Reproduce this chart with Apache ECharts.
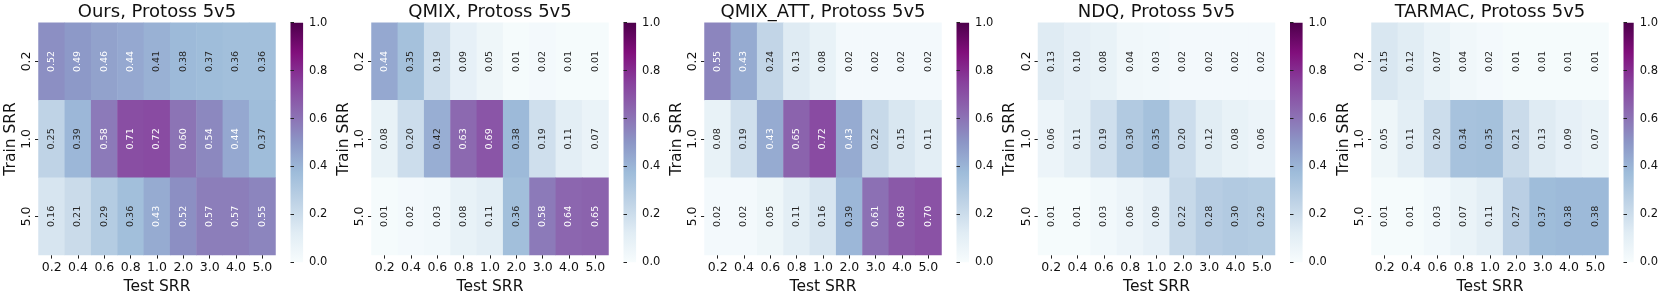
<!DOCTYPE html>
<html>
<head>
<meta charset="utf-8">
<script src="https://cdn.jsdelivr.net/npm/echarts@6/dist/echarts.min.js"></script>
<style>html,body{margin:0;padding:0;background:#fff}#c{width:1661px;height:300px}</style>
</head>
<body>
<div id="c"></div>
<script>
const testSRR = ['0.2','0.4','0.6','0.8','1.0','2.0','3.0','4.0','5.0'];
const trainSRR = ['0.2','1.0','5.0'];
const titles = ['Ours, Protoss 5v5','QMIX, Protoss 5v5','QMIX_ATT, Protoss 5v5','NDQ, Protoss 5v5','TARMAC, Protoss 5v5'];

const ours = [
  [0.52,0.49,0.46,0.44,0.41,0.38,0.37,0.36,0.36],
  [0.25,0.39,0.58,0.71,0.72,0.60,0.54,0.44,0.37],
  [0.16,0.21,0.29,0.36,0.43,0.52,0.57,0.57,0.55]
];
const qmix = [
  [0.44,0.35,0.19,0.09,0.05,0.01,0.02,0.01,0.01],
  [0.08,0.20,0.42,0.63,0.69,0.38,0.19,0.11,0.07],
  [0.01,0.02,0.03,0.08,0.11,0.36,0.58,0.64,0.65]
];
const qmixAtt = [
  [0.55,0.43,0.24,0.13,0.08,0.02,0.02,0.02,0.02],
  [0.08,0.19,0.43,0.65,0.72,0.43,0.22,0.15,0.11],
  [0.02,0.02,0.05,0.11,0.16,0.39,0.61,0.68,0.70]
];
const ndq = [
  [0.13,0.10,0.08,0.04,0.03,0.02,0.02,0.02,0.02],
  [0.06,0.11,0.19,0.30,0.35,0.20,0.12,0.08,0.06],
  [0.01,0.01,0.03,0.06,0.09,0.22,0.28,0.30,0.29]
];
const tarmac = [
  [0.15,0.12,0.07,0.04,0.02,0.01,0.01,0.01,0.01],
  [0.05,0.11,0.20,0.34,0.35,0.21,0.13,0.09,0.07],
  [0.01,0.01,0.03,0.07,0.11,0.27,0.37,0.38,0.38]
];
const panels = [ours, qmix, qmixAtt, ndq, tarmac];

// BuPu colormap
const bupu = ['#f7fcfd','#e0ecf4','#bfd3e6','#9ebcda','#8c96c6','#8c6bb1','#88419d','#810f7c','#4d004b'];

const FONT = 'DejaVu Sans';
const lefts = [38.5, 371.5, 704.5, 1038, 1371.5];
const TOP = 22.7, W = 237, H = 239.6;
const CB_OFF = 252, CB_W = 12.6;
const TICK = 12.5, CBTICK = 11.5, NAME = 15.5, TITLE = 18, ANN = 9.5;
const INK = '#111';

const grid = [], xAxis = [], yAxis = [], series = [], title = [];
lefts.forEach((l, i) => {
  grid.push({left: l, top: TOP, width: W, height: H, containLabel: false});
  grid.push({left: l + CB_OFF, top: TOP, width: CB_W, height: H, containLabel: false,
    show: true, borderWidth: 0,
    backgroundColor: {type: 'linear', x: 0, y: 1, x2: 0, y2: 0,
      colorStops: bupu.map((c, k) => ({offset: k / (bupu.length - 1), color: c}))}});
  xAxis.push({type: 'category', gridIndex: 2 * i, data: testSRR, position: 'bottom',
    axisLine: {show: false}, axisTick: {show: true, alignWithLabel: true, length: 3.5, lineStyle: {color: '#222'}},
    axisLabel: {fontFamily: FONT, fontSize: TICK, color: INK, margin: 6},
    name: 'Test SRR', nameLocation: 'middle', nameGap: 19,
    nameTextStyle: {fontFamily: FONT, fontSize: NAME, color: INK},
    splitLine: {show: false}});
  yAxis.push({type: 'category', gridIndex: 2 * i, data: trainSRR, inverse: true,
    axisLine: {show: false}, axisTick: {show: true, alignWithLabel: true, length: 3.5, lineStyle: {color: '#222'}},
    axisLabel: {fontFamily: FONT, fontSize: TICK, color: INK, rotate: 90, margin: 5},
    name: 'Train SRR', nameLocation: 'middle', nameGap: 20, nameRotate: 90,
    nameTextStyle: {fontFamily: FONT, fontSize: NAME, color: INK},
    splitLine: {show: false}});
  xAxis.push({type: 'value', gridIndex: 2 * i + 1, show: false, min: 0, max: 1});
  yAxis.push({type: 'value', gridIndex: 2 * i + 1, position: 'right', min: 0, max: 1, interval: 0.2,
    axisLine: {show: false}, splitLine: {show: false},
    axisTick: {show: true, length: 3.5, lineStyle: {color: '#222'}},
    axisLabel: {fontFamily: FONT, fontSize: CBTICK, color: INK, margin: 6, formatter: v => v.toFixed(1)}});
  const data = [];
  panels[i].forEach((row, r) => row.forEach((v, c) => {
    data.push({value: [c, r, v], label: {color: v > 0.425 ? '#ffffff' : '#262626'}});
  }));
  series.push({type: 'heatmap', xAxisIndex: 2 * i, yAxisIndex: 2 * i, data: data,
    label: {show: true, rotate: 90, fontFamily: FONT, fontSize: ANN, formatter: p => p.value[2].toFixed(2)},
    itemStyle: {borderWidth: 0}, emphasis: {disabled: true}, animation: false});
  title.push({text: titles[i], left: l + W / 2, top: 3, textAlign: 'center', padding: 0,
    textStyle: {fontFamily: FONT, fontSize: TITLE, fontWeight: 'normal', color: INK}});
});

const chart = echarts.init(document.getElementById('c'), null, {renderer: 'canvas'});
chart.setOption({
  animation: false,
  title: title,
  grid: grid, xAxis: xAxis, yAxis: yAxis, series: series,
  visualMap: {show: false, type: 'continuous', min: 0, max: 1, dimension: 2,
    seriesIndex: [0,1,2,3,4], inRange: {color: bupu}}
});
</script>
</body>
</html>
